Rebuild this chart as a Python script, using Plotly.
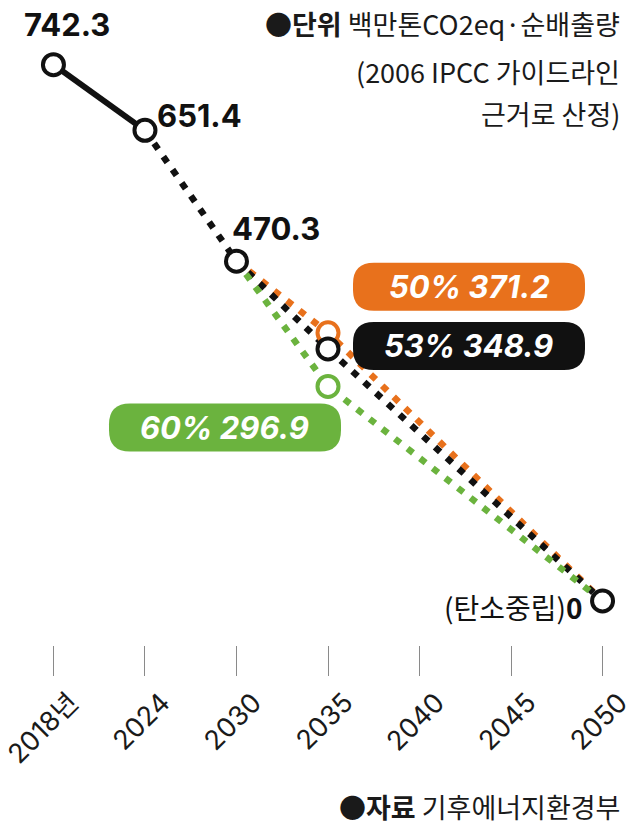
import plotly.graph_objects as go

# Years on the x axis and their tick labels
years = ["2018년", "2024", "2030", "2035", "2040", "2045", "2050"]
year_idx = list(range(len(years)))

# Emissions (million t CO2eq, net)
actual_x = [0, 1]
actual_y = [742.3, 651.4]
bridge_x = [1, 2]
bridge_y = [651.4, 470.3]
path_x = [2, 3, 6]
path_53 = [470.3, 348.9, 0]
path_50 = [470.3, 371.2, 0]
path_60 = [470.3, 296.9, 0]

# Pill labels for the 2035 targets
pill_texts = ["50% 371.2", "53% 348.9", "60% 296.9"]

BLACK = "#111111"
ORANGE = "#e8711c"
GREEN = "#6bb33e"
LABEL_FONT = "Inter, Noto Sans CJK KR, sans-serif"
KR_FONT = "Noto Sans CJK KR, sans-serif"
NOTE_COLOR = "#1a1a1a"

fig = go.Figure()

LW = 6.5
DOTS = "7px,9px"
# lines first
fig.add_trace(go.Scatter(x=actual_x, y=actual_y, mode="lines",
                         line=dict(color=BLACK, width=6)))
fig.add_trace(go.Scatter(x=bridge_x, y=bridge_y, mode="lines",
                         line=dict(color=BLACK, width=LW, dash=DOTS)))
for ys, col in [(path_50, ORANGE), (path_53, BLACK), (path_60, GREEN)]:
    fig.add_trace(go.Scatter(x=path_x, y=ys, mode="lines",
                             line=dict(color=col, width=LW, dash=DOTS)))

# open circle markers
MS = 21
MLW = 4
for ys, col in [(path_50, ORANGE), (path_53, BLACK), (path_60, GREEN)]:
    fig.add_trace(go.Scatter(x=[path_x[1]], y=[ys[1]], mode="markers",
                             marker=dict(size=MS, color="white",
                                         line=dict(color=col, width=MLW))))
fig.add_trace(go.Scatter(x=[0, 1, 2, 6], y=[actual_y[0], actual_y[1], bridge_y[1], path_53[2]],
                         mode="markers",
                         marker=dict(size=MS, color="white",
                                     line=dict(color=BLACK, width=MLW))))

# value labels
lab = dict(font=dict(family=LABEL_FONT, size=31, color=BLACK), showarrow=False)
fig.add_annotation(x=0, y=actual_y[0], text="<b>742.3</b>", xanchor="center", yanchor="middle",
                   xshift=14, yshift=40, **lab)
fig.add_annotation(x=1, y=actual_y[1], text="<b>651.4</b>", xanchor="left", yanchor="middle",
                   xshift=10, yshift=15, **lab)
fig.add_annotation(x=2, y=bridge_y[1], text="<b>470.3</b>", xanchor="left", yanchor="middle",
                   xshift=-6, yshift=33, **lab)
fig.add_annotation(x=6, y=0, text="(탄소중립)<b>0</b>", xanchor="right", yanchor="middle",
                   xshift=-18, yshift=-6,
                   font=dict(family=KR_FONT, size=28, color=BLACK), showarrow=False)


def pill_path(cx, cy, w, h, r):
    x0, x1 = cx - w / 2, cx + w / 2
    y0, y1 = cy - h / 2, cy + h / 2
    return (f"M {x0 + r},{y0} L {x1 - r},{y0} Q {x1},{y0} {x1},{y0 + r} "
            f"L {x1},{y1 - r} Q {x1},{y1} {x1 - r},{y1} L {x0 + r},{y1} "
            f"Q {x0},{y1} {x0},{y1 - r} L {x0},{y0 + r} Q {x0},{y0} {x0 + r},{y0} Z")


PW, PH, PR = 232, 48, 21
pills = [
    (path_50[1], ORANGE, 141, 46, pill_texts[0]),
    (path_53[1], BLACK, 141, 3, pill_texts[1]),
    (path_60[1], GREEN, -103, -41, pill_texts[2]),
]
for yv, col, dx, dy, txt in pills:
    fig.add_shape(type="path", xref="x", yref="y", xsizemode="pixel", ysizemode="pixel",
                  xanchor=3, yanchor=yv, path=pill_path(dx, dy, PW, PH, PR),
                  fillcolor=col, line=dict(width=0), layer="above")
    fig.add_annotation(x=3, y=yv, xshift=dx, yshift=dy, text=f"<b><i>{txt}</i></b>",
                       showarrow=False, xanchor="center", yanchor="middle",
                       font=dict(family=LABEL_FONT, size=31, color="white"))

# unit note (three right-aligned lines) and source
note_lines = [("●<b>단위</b> 백만톤CO2eq·순배출량", 0),
              ("(2006 IPCC 가이드라인", -48),
              ("근거로 산정)", -90)]
for txt, dy in note_lines:
    fig.add_annotation(xref="paper", yref="paper", x=1, xanchor="right", y=1, yanchor="middle",
                       xshift=-8, yshift=dy, text=txt, showarrow=False,
                       font=dict(family=KR_FONT, size=27, color=NOTE_COLOR))
fig.add_annotation(xref="paper", yref="paper", x=1, xanchor="right", y=0, yanchor="middle",
                   xshift=-8, yshift=-161, text="●<b>자료</b> 기후에너지환경부", showarrow=False,
                   font=dict(family=KR_FONT, size=27, color=NOTE_COLOR))

fig.update_layout(
    width=634, height=828,
    margin=dict(l=26, r=4, t=23, b=183, autoexpand=False),
    paper_bgcolor="white", plot_bgcolor="white",
    showlegend=False,
    xaxis=dict(range=[-0.3, 6.3], tickvals=year_idx, ticktext=years, tickangle=-45,
               ticks="outside", ticklen=30, tickcolor="#8a8a8a", tickwidth=1.3,
               ticklabeloverflow="allow", automargin=False, ticklabelshift=17,
               showgrid=False, zeroline=False, showline=False,
               tickfont=dict(family=LABEL_FONT, size=27, color="#1a1a1a")),
    yaxis=dict(range=[-61, 800], visible=False, showgrid=False, zeroline=False,
               automargin=False),
)

fig.write_html("out.html")
